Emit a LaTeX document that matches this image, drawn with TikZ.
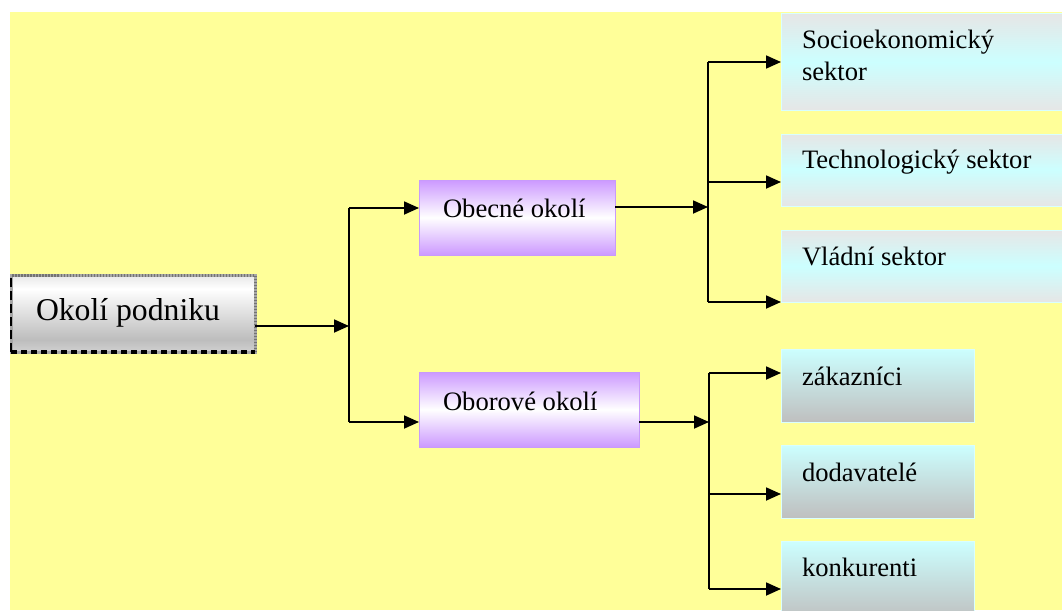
\documentclass[tikz,border=0pt]{standalone}
\usepackage{fontspec}
\setmainfont{Liberation Serif}[Ligatures=TeX]
\newfontfamily\boxserif{Liberation Serif}
\usetikzlibrary{arrows.meta}

\definecolor{bgyellow}{HTML}{FFFF99}
\definecolor{skycyan}{HTML}{CCFFFF}
\definecolor{paleedge}{HTML}{D9FFFF}
\definecolor{softgray}{HTML}{E6E6E6}
\definecolor{midgray}{HTML}{BFBFBF}
\definecolor{lilac}{HTML}{CC99FF}
\definecolor{lilacedge}{HTML}{C89BFA}

% silver shading of the root box: light top, white band, darker lower part
\pgfdeclareverticalshading{rootsilver}{100bp}{%
  color(0bp)=(black!18); color(25bp)=(black!18); color(33bp)=(black!26);
  color(66bp)=(white); color(75bp)=(black!9); color(100bp)=(black!9)}

\begin{document}
\begin{tikzpicture}[x=1pt,y=-1pt,
  every node/.style={inner sep=0pt,outer sep=0pt},
  rootbox/.style={rectangle,shading=rootsilver,draw=black!35,line width=3pt,
    minimum width=244pt,minimum height=77pt,anchor=north west},
  groupbox/.style={rectangle,top color=lilac,bottom color=lilac,middle color=white,
    draw=lilacedge,line width=1pt,minimum height=75pt,anchor=north west},
  sectorbox/.style={rectangle,top color=softgray,bottom color=softgray,middle color=skycyan,
    draw=paleedge,line width=1pt,anchor=north west},
  actorbox/.style={rectangle,top color=skycyan,bottom color=midgray,
    draw=paleedge,line width=1pt,minimum width=193pt,anchor=north west},
  txt/.style={font=\boxserif\fontsize{26.6}{32}\selectfont,align=left},
  bus/.style={line width=1.8pt,black},
  link/.style={line width=1.8pt,black,-{Triangle[length=15pt,width=13pt]}}]

\useasboundingbox (0,0) rectangle (1062,610);
\clip (0,0) rectangle (1062,610);

% yellow canvas
\fill[bgyellow] (10,12) rectangle (1062,610);

% root
\node[rootbox] (okoli) at (11,275) {};
\draw[black!55,line width=3pt,dash pattern=on 1.5pt off 1.5pt]
  (okoli.south east) -- (okoli.north east) -- (okoli.north west);
\draw[black,line width=3.5pt,dash pattern=on 6pt off 4pt]
  (okoli.south west) -- (okoli.south east);
\draw[black,line width=1.4pt,dash pattern=on 9pt off 4pt]
  (okoli.south west) -- (okoli.north west);
\node[anchor=base west,font=\boxserif\fontsize{31.7}{36}\selectfont] (okoliT) at (36,320) {Okolí podniku};

% second level
\node[groupbox,minimum width=196pt] (obecne) at (419,180) {};
\node[txt,anchor=base west] (obecneT) at (443,217.7) {Obecné okolí};
\node[groupbox,minimum width=220pt] (obor) at (419,372) {};
\node[txt,anchor=base west] (oborT) at (443,410) {Oborové okolí};

% general environment sectors
\node[sectorbox,minimum width=290pt,minimum height=96pt] (soc) at (781,14) {};
\node[txt,anchor=west] (socT) at (802,55) {Socioekonomický\\sektor};
\node[sectorbox,minimum width=290pt,minimum height=72pt] (tech) at (781,134) {};
\node[txt,anchor=base west] (techT) at (802,168) {Technologický sektor};
\node[sectorbox,minimum width=290pt,minimum height=72pt] (vlad) at (781,230) {};
\node[txt,anchor=base west] (vladT) at (802,265) {Vládní sektor};

% industry environment actors
\node[actorbox,minimum height=73pt] (zak) at (781,349) {};
\node[txt,anchor=base west] (zakT) at (802,385) {zákazníci};
\node[actorbox,minimum height=73pt] (dod) at (781,445) {};
\node[txt,anchor=base west] (dodT) at (802,481.7) {dodavatelé};
\node[actorbox,minimum height=80pt] (kon) at (781,541) {};
\node[txt,anchor=base west] (konT) at (802,576.7) {konkurenti};

% junction points
\coordinate (rootHub) at (349,326);
\coordinate (rootTop) at (349,208);
\coordinate (rootBot) at (349,422);
\coordinate (genHub) at (708,207);
\coordinate (genTop) at (708,62);
\coordinate (genMid) at (708,182);
\coordinate (genBot) at (708,302);
\coordinate (indHub) at (709,422);
\coordinate (indTop) at (709,373);
\coordinate (indMid) at (709,494);
\coordinate (indBot) at (709,589);

% root fork
\draw[link] (okoli.east |- rootHub) -- (rootHub);
\draw[bus] (rootTop) -- (rootBot);
\draw[link] (rootTop) -- (rootTop -| obecne.west);
\draw[link] (rootBot) -- (rootBot -| obor.west);

% general environment fork
\draw[link] (obecne.east |- genHub) -- (genHub);
\draw[bus] (genTop) -- (genBot);
\draw[link] (genTop) -- (genTop -| soc.west);
\draw[link] (genMid) -- (genMid -| tech.west);
\draw[link] (genBot) -- (genBot -| vlad.west);

% industry environment fork
\draw[link] (obor.east |- indHub) -- (indHub);
\draw[bus] (indTop) -- (indBot);
\draw[link] (indTop) -- (indTop -| zak.west);
\draw[link] (indMid) -- (indMid -| dod.west);
\draw[link] (indBot) -- (indBot -| kon.west);
\end{tikzpicture}
\end{document}
